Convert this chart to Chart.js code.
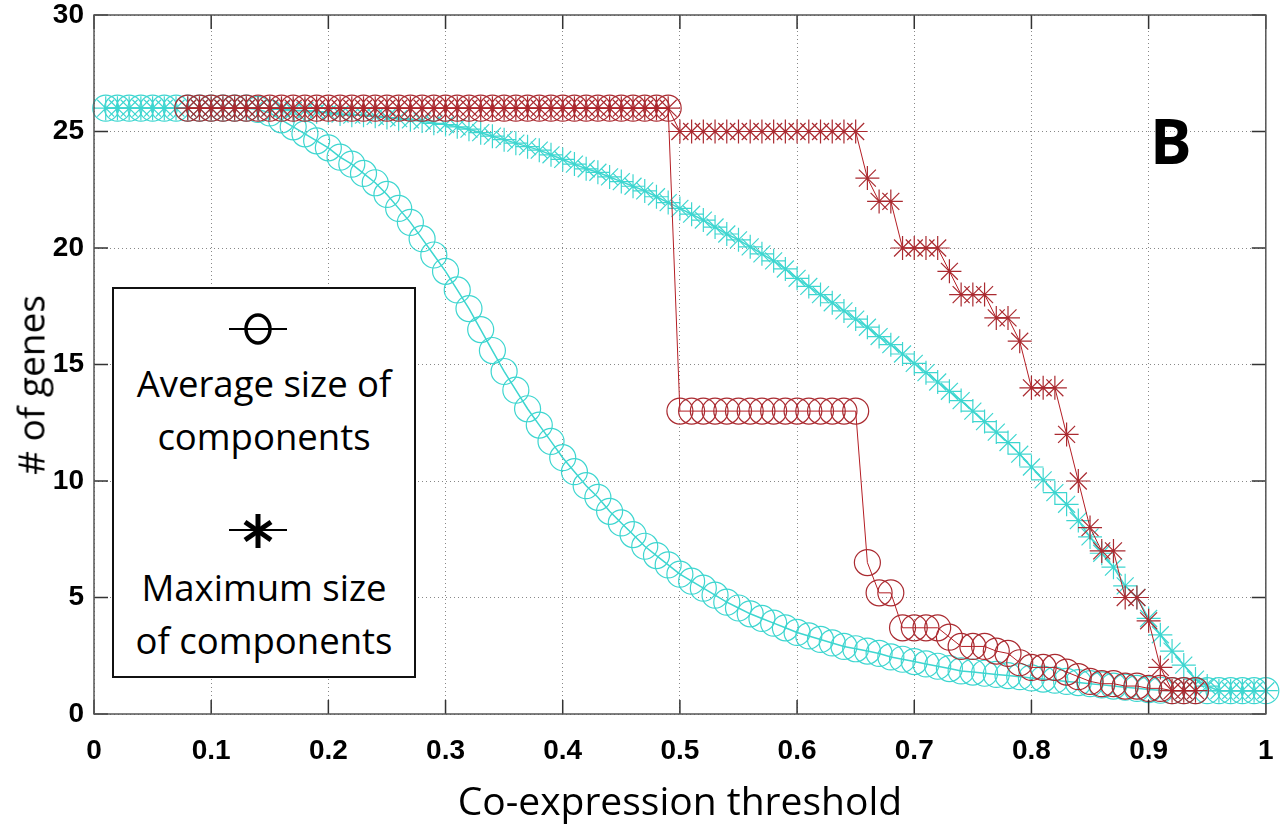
<!DOCTYPE html>
<html>
<head>
<meta charset="utf-8">
<script src="https://cdn.jsdelivr.net/npm/chart.js@4.4.1/dist/chart.umd.min.js"></script>
<style>
  body { margin: 0; background: #fff; }
  #wrap { position: relative; width: 1280px; height: 827px; overflow: hidden; }
  #chart { position: absolute; left: 0; top: 0; }
  .legend {
    position: absolute; left: 112px; top: 287px; width: 300px; height: 387px;
    border: 2px solid #111; background: #fff;
    font-family: 'Open Sans', sans-serif; font-size: 36.5px; color: #000;
    text-align: center;
  }
  .legend .txt { position: absolute; left: 0; width: 100%; line-height: 53px; }
  .legend svg { position: absolute; left: 113px; }
  .panel { position: absolute; left: 1150px; top: 98px; font: bold 62px 'Open Sans', sans-serif; color: #000; }
  .ytitle {
    position: absolute; left: 30px; top: 385px; white-space: nowrap;
    font: 37px 'Open Sans', sans-serif; color: #000;
    transform: translate(-50%, -50%) rotate(-90deg);
  }
</style>
</head>
<body>
<div id="wrap">
  <canvas id="chart" width="1280" height="827"></canvas>
  <div class="ytitle"># of genes</div>
  <div class="legend">
    <svg style="top:22px" width="70" height="36" viewBox="0 0 70 36">
      <line x1="2" y1="18" x2="60" y2="18" stroke="#000" stroke-width="2"/>
      <ellipse cx="31" cy="18" rx="12" ry="14" fill="none" stroke="#000" stroke-width="3.5"/>
    </svg>
    <div class="txt" style="top:68px">Average size of<br>components</div>
    <svg style="top:221px" width="70" height="40" viewBox="0 0 70 40">
      <line x1="2" y1="20" x2="60" y2="20" stroke="#000" stroke-width="2"/>
      <g stroke="#000" stroke-width="5" stroke-linecap="butt">
        <line x1="31" y1="4" x2="31" y2="38"/>
        <line x1="18" y1="12" x2="44" y2="30"/>
        <line x1="44" y1="12" x2="18" y2="30"/>
      </g>
    </svg>
    <div class="txt" style="top:272px">Maximum size<br>of components</div>
  </div>
  <div class="panel">B</div>
</div>
<script>
// thresholds 0.01 .. 1.00
const thresholds = [
  0.01,0.02,0.03,0.04,0.05,0.06,0.07,0.08,0.09,0.10,
  0.11,0.12,0.13,0.14,0.15,0.16,0.17,0.18,0.19,0.20,
  0.21,0.22,0.23,0.24,0.25,0.26,0.27,0.28,0.29,0.30,
  0.31,0.32,0.33,0.34,0.35,0.36,0.37,0.38,0.39,0.40,
  0.41,0.42,0.43,0.44,0.45,0.46,0.47,0.48,0.49,0.50,
  0.51,0.52,0.53,0.54,0.55,0.56,0.57,0.58,0.59,0.60,
  0.61,0.62,0.63,0.64,0.65,0.66,0.67,0.68,0.69,0.70,
  0.71,0.72,0.73,0.74,0.75,0.76,0.77,0.78,0.79,0.80,
  0.81,0.82,0.83,0.84,0.85,0.86,0.87,0.88,0.89,0.90,
  0.91,0.92,0.93,0.94,0.95,0.96,0.97,0.98,0.99,1.00
];

// red series run from 0.08 to 0.94
const redAvg = [
  26,26,26,
  26,26,26,26,26,26,26,26,26,26,
  26,26,26,26,26,26,26,26,26,26,
  26,26,26,26,26,26,26,26,26,26,
  26,26,26,26,26,26,26,26,26,
  13,13,13,13,13,13,13,13,13,13,13,13,13,13,13,13,
  6.5,5.2,5.2,3.7,3.7,3.7,3.7,3.3,2.9,2.9,
  2.9,2.7,2.6,2.2,2.0,2.0,2.0,1.8,1.6,1.4,
  1.3,1.3,1.2,1.2,1.1,1.1,1.0,1.0,1.0
];
const redMax = [
  26,26,26,
  26,26,26,26,26,26,26,26,26,26,
  26,26,26,26,26,26,26,26,26,26,
  26,26,26,26,26,26,26,26,26,26,
  26,26,26,26,26,26,26,26,26,
  25,25,25,25,25,25,25,25,25,25,25,25,25,25,25,25,
  23,22,22,20,20,20,20,19,18,18,
  18,17,17,16,14,14,14,12,10,8,
  7,7,5,5,4,2,1,1,1
];

// cyan series run from 0.01 to 1.00
const cyanAvg = [
  26,26,26,26,26,26,26,26,26,26,
  26,26,26,25.95,25.8,25.5,25.2,24.9,24.6,24.3,
  23.9,23.6,23.2,22.8,22.3,21.7,21.1,20.4,19.7,19.0,
  18.2,17.4,16.5,15.6,14.7,13.9,13.1,12.4,11.7,11.0,
  10.4,9.8,9.3,8.7,8.2,7.7,7.2,6.8,6.4,6.0,
  5.7,5.4,5.1,4.8,4.55,4.3,4.1,3.9,3.7,3.5,
  3.35,3.2,3.05,2.9,2.8,2.7,2.6,2.45,2.35,2.25,
  2.15,2.05,1.95,1.85,1.8,1.75,1.7,1.65,1.6,1.55,
  1.5,1.45,1.4,1.35,1.3,1.25,1.2,1.15,1.1,1.05,
  1.02,1,1,1,1,1,1,1,1,1
];
const cyanMax = [
  26,26,26,26,26,26,26,26,26,26,
  26,26,26,26,26,25.95,25.9,25.9,25.85,25.8,
  25.75,25.7,25.7,25.65,25.6,25.55,25.5,25.45,25.35,25.3,
  25.2,25.1,24.95,24.8,24.65,24.5,24.35,24.2,24.0,23.8,
  23.6,23.4,23.25,23.05,22.85,22.65,22.45,22.2,21.95,21.7,
  21.45,21.2,20.9,20.6,20.35,20.05,19.75,19.45,19.1,18.7,
  18.35,18.0,17.65,17.3,16.95,16.6,16.2,15.85,15.45,15.05,
  14.65,14.25,13.85,13.45,13.0,12.55,12.1,11.65,11.15,10.6,
  10.05,9.5,9.0,8.3,7.6,6.9,6.3,5.5,5.0,4.1,
  3.4,2.7,2.1,1.5,1.2,1.0,1.0,1.0,1.0,1.0
];

const xTickLabels = ['0','0.1','0.2','0.3','0.4','0.5','0.6','0.7','0.8','0.9','1'];
const yTickLabels = ['0','5','10','15','20','25','30'];

const redStart = thresholds.indexOf(0.08);

function pairs(xs, ys) {
  return ys.map((y, i) => ({ x: xs[i], y: y }));
}

const red = 'rgb(170,42,48)';
const redLine = 'rgb(180,30,36)';
const cyan = 'rgb(62,214,208)';

function series(label, ys, xs, color, lineColor, style, radius, lw) {
  return {
    label: label,
    data: pairs(xs, ys),
    borderColor: lineColor,
    borderWidth: lw,
    pointStyle: style,
    pointRadius: radius,
    pointBorderColor: color,
    pointBackgroundColor: 'rgba(0,0,0,0)',
    pointBorderWidth: 1.2,
    tension: 0,
    clip: false
  };
}

// frame + inward tick marks
const framePlugin = {
  id: 'frame',
  afterDatasetsDraw(chart) {
    const { ctx, chartArea: a, scales } = chart;
    ctx.save();
    ctx.strokeStyle = '#333';
    ctx.lineWidth = 1.5;
    ctx.beginPath();
    scales.x.ticks.forEach(t => {
      const px = scales.x.getPixelForValue(t.value);
      ctx.moveTo(px, a.bottom); ctx.lineTo(px, a.bottom - 14);
      ctx.moveTo(px, a.top); ctx.lineTo(px, a.top + 14);
    });
    scales.y.ticks.forEach(t => {
      const py = scales.y.getPixelForValue(t.value);
      ctx.moveTo(a.left, py); ctx.lineTo(a.left + 14, py);
      ctx.moveTo(a.right, py); ctx.lineTo(a.right - 14, py);
    });
    ctx.stroke();
    ctx.strokeStyle = '#555';
    ctx.lineWidth = 1.5;
    ctx.strokeRect(a.left, a.top, a.right - a.left, a.bottom - a.top);
    ctx.restore();
  }
};

new Chart(document.getElementById('chart'), {
  type: 'line',
  data: {
    datasets: [
      series('Average size of components', redAvg, thresholds.slice(redStart), red, redLine, 'circle', 13, 1),
      series('Maximum size of components', redMax, thresholds.slice(redStart), red, redLine, 'star', 12, 1),
      series('Average size of components', cyanAvg, thresholds, cyan, cyan, 'circle', 13, 1.5),
      series('Maximum size of components', cyanMax, thresholds, cyan, cyan, 'star', 12, 1.5)
    ]
  },
  options: {
    responsive: false,
    animation: false,
    layout: { padding: { left: 10, right: 11, top: 15, bottom: 0 } },
    plugins: { legend: { display: false }, tooltip: { enabled: false } },
    scales: {
      x: {
        type: 'linear', min: 0, max: 1,
        afterFit: s => { s.height = 113; s.paddingLeft = 0; s.paddingRight = 0; },
        ticks: {
          stepSize: 0.1, padding: 20, color: '#000',
          font: { family: 'Liberation Sans', weight: 'bold', size: 28 },
          callback: (v, i) => xTickLabels[i]
        },
        grid: { color: '#888', drawTicks: false },
        border: { display: false, dash: [1, 3] },
        title: {
          display: true, text: 'Co-expression threshold', color: '#000',
          font: { family: 'Open Sans', size: 39 }, padding: { top: 0, bottom: 0 }
        }
      },
      y: {
        min: 0, max: 30,
        afterFit: s => { s.width = 84; s.paddingTop = 0; s.paddingBottom = 0; },
        ticks: {
          stepSize: 5, padding: 10, color: '#000',
          font: { family: 'Liberation Sans', weight: 'bold', size: 28 },
          callback: (v, i) => yTickLabels[i]
        },
        grid: { color: '#888', drawTicks: false },
        border: { display: false, dash: [1, 3] }
      }
    }
  },
  plugins: [framePlugin]
});
</script>
</body>
</html>
